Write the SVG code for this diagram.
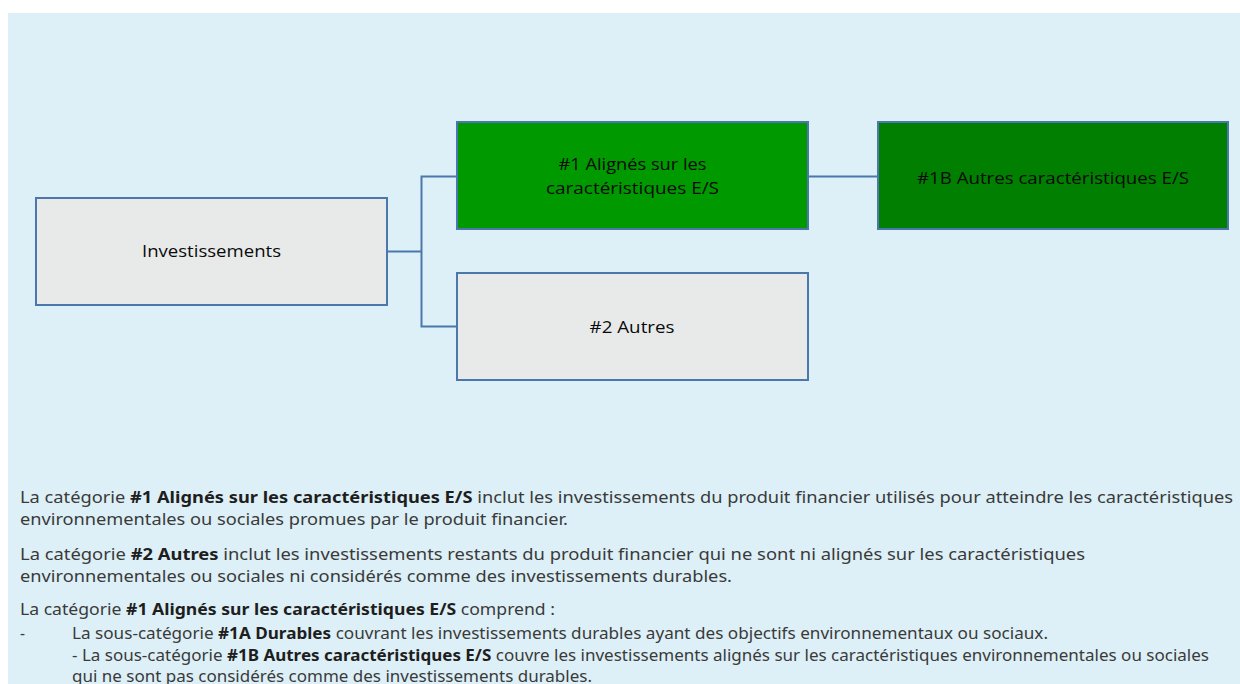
<svg xmlns="http://www.w3.org/2000/svg" width="1240" height="684" viewBox="0 0 1240 684">
<style>
.box{stroke:#4A78AC;stroke-width:2}
.grey{fill:#E8EAEA}
.g1{fill:#009900}
.g2{fill:#007F00}
.lbl{font-family:"Open Sans","Liberation Sans",sans-serif;font-size:16.5px;fill:#0A0A0A;text-anchor:middle}
.conn{fill:none;stroke:#4A78AC;stroke-width:2}
.body{font-family:"Noto Sans","Liberation Sans",sans-serif;font-size:15.5px;fill:#3A3A3A}
.b{font-weight:bold;fill:#1E1E1E}
</style>
<rect x="8" y="13" width="1232" height="671" fill="#DDF0F7"/>
<g id="connectors">
<polyline class="conn" points="387,251.5 421.5,251.5"/>
<polyline class="conn" points="457,176.5 421.5,176.5 421.5,326.5 457,326.5"/>
<polyline class="conn" points="808,176.5 878,176.5"/>
</g>
<g id="node-investissements">
<rect class="box grey" x="36" y="198" width="351" height="107"/>
<text class="lbl" x="211.5" y="257" textLength="139" lengthAdjust="spacingAndGlyphs">Investissements</text>
</g>
<g id="node-1">
<rect class="box g1" x="457" y="122" width="351" height="107"/>
<text class="lbl" x="632.5" y="169.5" textLength="148" lengthAdjust="spacingAndGlyphs">#1 Alignés sur les</text>
<text class="lbl" x="632.5" y="193.5" textLength="173" lengthAdjust="spacingAndGlyphs">caractéristiques E/S</text>
</g>
<g id="node-1b">
<rect class="box g2" x="878" y="122" width="350" height="107"/>
<text class="lbl" x="1053" y="183.5" textLength="272" lengthAdjust="spacingAndGlyphs">#1B Autres caractéristiques E/S</text>
</g>
<g id="node-2">
<rect class="box grey" x="457" y="273" width="351" height="107"/>
<text class="lbl" x="632" y="333" textLength="85" lengthAdjust="spacingAndGlyphs">#2 Autres</text>
</g>
<g id="notes" class="body">
<text x="20" y="503" textLength="1213" lengthAdjust="spacingAndGlyphs">La catégorie <tspan class="b">#1 Alignés sur les caractéristiques E/S</tspan> inclut les investissements du produit financier utilisés pour atteindre les caractéristiques</text>
<text x="20" y="525" textLength="548" lengthAdjust="spacingAndGlyphs">environnementales ou sociales promues par le produit financier.</text>
<text x="20" y="560" textLength="1065" lengthAdjust="spacingAndGlyphs">La catégorie <tspan class="b">#2 Autres</tspan> inclut les investissements restants du produit financier qui ne sont ni alignés sur les caractéristiques</text>
<text x="20" y="582" textLength="712" lengthAdjust="spacingAndGlyphs">environnementales ou sociales ni considérés comme des investissements durables.</text>
<text x="20" y="615" textLength="535" lengthAdjust="spacingAndGlyphs">La catégorie <tspan class="b">#1 Alignés sur les caractéristiques E/S</tspan> comprend :</text>
<text x="20" y="639">-</text>
<text x="72" y="639" textLength="976" lengthAdjust="spacingAndGlyphs">La sous-catégorie <tspan class="b">#1A Durables</tspan> couvrant les investissements durables ayant des objectifs environnementaux ou sociaux.</text>
<text x="72" y="661" textLength="1137" lengthAdjust="spacingAndGlyphs">- La sous-catégorie <tspan class="b">#1B Autres caractéristiques E/S</tspan> couvre les investissements alignés sur les caractéristiques environnementales ou sociales</text>
<text x="72" y="682" textLength="520" lengthAdjust="spacingAndGlyphs">qui ne sont pas considérés comme des investissements durables.</text>
</g>
</svg>
